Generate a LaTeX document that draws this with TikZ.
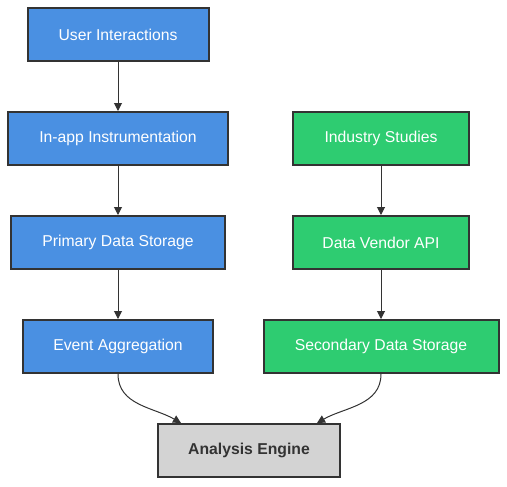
\documentclass[tikz,border=0pt]{standalone}
\usepackage{fontspec}
\setmainfont{Liberation Sans}
\usetikzlibrary{arrows.meta}
\definecolor{bluebox}{HTML}{4A90E2}
\definecolor{greenbox}{HTML}{2ECC71}
\definecolor{graybox}{HTML}{D3D3D3}
\definecolor{edgecol}{HTML}{333333}
\begin{document}
\begin{tikzpicture}[x=0.75pt,y=-0.75pt,
  box/.style={draw=edgecol,line width=1.5pt,minimum height=39.75pt,inner sep=0pt,font=\fontsize{11.8}{13}\selectfont,text=white},
  bluen/.style={box,fill=bluebox},
  greenn/.style={box,fill=greenbox},
  grayn/.style={box,fill=graybox,text=edgecol,font=\fontsize{11.8}{13}\selectfont\bfseries},
  conn/.style={draw=edgecol,line width=0.75pt,-{Triangle[length=6pt,width=6pt]}}]
\useasboundingbox (0,0) rectangle (507,486);
\node[bluen,minimum width=135.75pt] (ui) at (118,34.5) {User Interactions};
\node[bluen,minimum width=165pt] (ia) at (118,138.5) {In-app Instrumentation};
\node[bluen,minimum width=160.5pt] (pd) at (118,242.5) {Primary Data Storage};
\node[bluen,minimum width=142.5pt] (ea) at (118,346.5) {Event Aggregation};
\node[greenn,minimum width=132pt] (is) at (381,138.5) {Industry Studies};
\node[greenn,minimum width=132pt] (dv) at (381,242.5) {Data Vendor API};
\node[greenn,minimum width=176.25pt] (sd) at (381,346.5) {Secondary Data Storage};
\node[grayn,minimum width=136.5pt] (ae) at (249,450.5) {Analysis Engine};
\draw[conn] (ui) -- (ia);
\draw[conn] (ia) -- (pd);
\draw[conn] (pd) -- (ea);
\draw[conn] (is) -- (dv);
\draw[conn] (dv) -- (sd);
\draw[conn] (ea.south) to[out=-90,in=150] ([xshift=18pt]ae.north west);
\draw[conn] (sd.south) to[out=-90,in=30] ([xshift=-18pt]ae.north east);
\end{tikzpicture}
\end{document}
